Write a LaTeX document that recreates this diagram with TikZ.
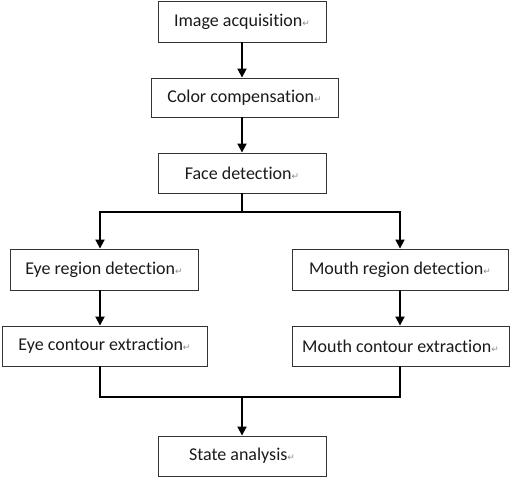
\documentclass[tikz,border=0pt]{standalone}
\usepackage{fontspec}
\setmainfont{Carlito}[Ligatures={NoCommon}]
\newfontfamily\symfont{DejaVu Sans}
\usetikzlibrary{positioning, arrows.meta, calc}
\definecolor{boxline}{HTML}{333333}
\definecolor{retgray}{HTML}{8A8A8A}
\definecolor{txtgray}{HTML}{1A1A1A}
\newcommand{\ret}{{\symfont\fontsize{9}{10}\selectfont\textcolor{retgray}{↵}}}

\begin{document}
\begin{tikzpicture}[x=1pt, y=-1pt, font=\fontsize{18}{21}\selectfont,
    stepbox/.style={draw=boxline, text=txtgray, line width=0.9pt, minimum height=40pt, inner sep=0pt},
    flow/.style={line width=1.8pt, -{Triangle[length=9pt, width=9pt]}},
    joint/.style={line width=1.8pt}]
    \useasboundingbox (0,0) rectangle (510,477);
    % main column
    \node[stepbox, minimum width=168pt, minimum height=41pt] (acq) at (242,21.5) {Image acquisition\ret};
    \node[stepbox, minimum width=187pt, minimum height=39pt] (comp) at (244.5,97.5) {Color compensation\ret};
    \node[stepbox, minimum width=168pt] (face) at (242,173) {Face detection\ret};
    % eye branch
    \node[stepbox, minimum width=188pt, minimum height=41pt] (eyereg) at (104,269.5) {Eye region detection\ret};
    \node[stepbox, minimum width=205pt] (eyecon) at (104.5,346) {Eye contour extraction\ret};
    % mouth branch
    \node[stepbox, minimum width=216pt, minimum height=41pt] (mouthreg) at (400,269.5) {Mouth region detection\ret};
    \node[stepbox, minimum width=217pt] (mouthcon) at (400.5,346) {Mouth contour extraction\ret};
    % result
    \node[stepbox, minimum width=168pt] (state) at (242,456) {State analysis\ret};
    % junctions
    \coordinate (split) at (242,212);
    \coordinate (merge) at (242,397);
    \draw[flow] (acq.south) -- (comp.north -| acq.south);
    \draw[flow] (comp.south -| acq.south) -- (face.north);
    \draw[joint] (face.south) -- (split);
    \draw[flow] (split) -- (100,212) -- (eyereg.north -| 100,0);
    \draw[flow] (split) -- (400,212) -- (mouthreg.north);
    \draw[flow] (eyereg.south -| 100,0) -- (eyecon.north -| 100,0);
    \draw[flow] (mouthreg.south) -- (mouthcon.north -| mouthreg.south);
    \draw[joint] (eyecon.south -| 100,0) -- (100,397) -- (400,397) -- (mouthcon.south -| mouthreg.south);
    \draw[flow] (merge) -- (state.north);
\end{tikzpicture}
\end{document}
